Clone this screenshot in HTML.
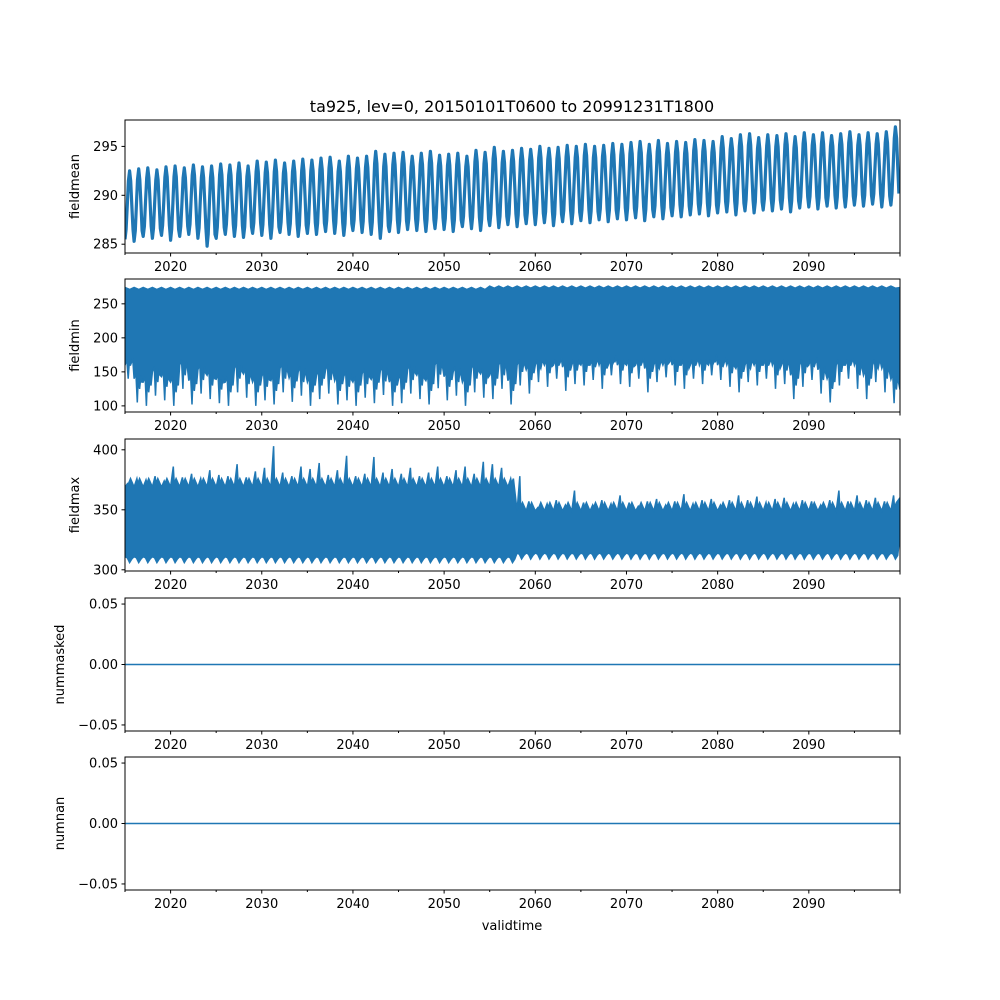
<!DOCTYPE html>
<html><head><meta charset="utf-8"><style>
body{margin:0;background:#fff}
svg{display:block;font-family:"DejaVu Sans","Liberation Sans",sans-serif}
</style></head><body>
<svg id="chart" width="1000" height="1000" viewBox="0 0 1000 1000" xmlns="http://www.w3.org/2000/svg">
<rect width="1000" height="1000" fill="#fff"/>
<text x="512" y="112" font-size="16" text-anchor="middle">ta925, lev=0, 20150101T0600 to 20991231T1800</text>
<text x="512" y="930" font-size="13" text-anchor="middle">validtime</text>
</svg>
<script>
const years = [];
for (let y = 2015; y <= 2099; y++) years.push(y);
const xTicks = [2020,2030,2040,2050,2060,2070,2080,2090];
const fmMax = [292.5,292.7,292.8,292.6,292.9,293.0,292.8,293.1,292.9,293.0,
293.2,293.1,293.3,293.0,293.5,293.4,293.6,293.3,293.5,293.7,
293.6,293.8,293.9,293.5,294.0,293.8,294.0,294.5,294.2,294.3,
294.4,294.0,294.3,294.5,294.1,294.2,294.3,294.0,294.6,294.4,
294.9,294.5,294.6,294.8,294.7,295.0,294.8,294.9,295.1,295.0,
295.2,295.0,295.1,295.3,295.2,295.4,295.5,295.2,295.6,295.3,
295.5,295.4,295.7,295.6,295.5,296.0,295.8,296.2,296.3,295.9,
296.2,296.1,296.3,296.0,296.4,296.2,296.4,296.1,296.3,296.5,
296.2,296.4,296.3,296.5,297.0];
const fmMin = [285.5,285.3,285.8,285.6,285.9,285.4,285.8,286.0,285.6,284.8,
285.6,286.0,285.8,285.7,286.1,285.9,285.6,286.2,286.0,285.8,
286.1,286.0,286.3,286.1,285.9,286.4,286.2,286.0,285.6,286.3,
286.2,286.5,286.4,286.3,286.6,286.5,286.3,286.8,286.6,286.4,
286.9,286.7,287.0,286.8,287.1,287.0,287.2,286.9,287.3,287.1,
287.4,287.2,287.5,287.3,287.6,287.5,287.7,287.4,287.8,287.6,
287.9,287.8,288.0,288.1,287.9,288.2,288.3,288.0,288.4,288.2,
288.5,288.4,288.6,288.3,288.7,288.8,288.6,288.9,288.7,288.8,
289.0,288.9,289.1,288.8,289.0];
const fminLow = [140,105,100,115,108,100,125,102,118,110,
104,100,120,112,100,108,102,120,106,115,
100,110,118,102,108,100,112,104,116,100,
104,118,110,102,126,108,115,100,120,112,
110,125,102,130,118,135,128,140,122,132,
130,138,125,145,132,128,140,120,135,142,
130,125,140,132,145,138,128,120,135,130,
140,125,132,110,128,138,118,105,130,140,
125,110,135,120,104];
const fminTop = [];
for (let i = 0; i < 85; i++) fminTop.push(i < 40 ? 274 : 276);
const fmaxHigh = [372,376,375,378,374,386,377,380,376,383,
379,378,388,377,382,385,403,381,378,386,
384,389,379,383,395,378,380,394,381,384,
380,385,378,381,386,378,383,386,380,390,
388,385,376,378,357,352,355,358,354,366,
356,354,358,355,362,356,353,357,359,354,
357,363,355,358,359,354,358,362,358,361,
356,359,360,355,358,357,354,358,366,357,
362,358,360,357,362];
const fmaxLow = [];
for (let i = 0; i < 85; i++) fmaxLow.push(i < 43 ? 306 : 309);
const zeroSeries = [0, 0];

const svg = document.getElementById('chart');
const NS = 'http://www.w3.org/2000/svg';
const X0 = 125, X1 = 900;
const xScale = t => X0 + (t - 2015) / 85 * (X1 - X0);
const fmtZ = v => (v < 0 ? '\u2212' : '') + Math.abs(v).toFixed(2);
const panels = [
 {name:'fieldmean', top:120, bot:253, lo:284.1, hi:297.7, ticks:[285,290,295], fmt:v=>String(v)},
 {name:'fieldmin', top:279, bot:412, lo:91, hi:286.5, ticks:[100,150,200,250], fmt:v=>String(v)},
 {name:'fieldmax', top:439, bot:571, lo:299, hi:409, ticks:[300,350,400], fmt:v=>String(v)},
 {name:'nummasked', top:598, bot:731, lo:-0.055, hi:0.055, ticks:[-0.05,0,0.05], fmt:fmtZ},
 {name:'numnan', top:757, bot:890, lo:-0.055, hi:0.055, ticks:[-0.05,0,0.05], fmt:fmtZ}
];
function mk(tag, attrs, parent){const e=document.createElementNS(NS,tag);for(const k in attrs)e.setAttribute(k,attrs[k]);(parent||svg).appendChild(e);return e;}
const C = '#1f77b4';
panels.forEach((p, pi) => {
  const g = mk('g', {});
  
  
  const ys = v => p.bot - (v - p.lo) / (p.hi - p.lo) * (p.bot - p.top);
  const cp = mk('clipPath', {id:'cp'+pi}, g);
  mk('rect', {x:X0, y:p.top, width:X1-X0, height:p.bot-p.top}, cp);
  const dg = mk('g', {'clip-path':'url(#cp'+pi+')'}, g);
  if (pi === 0) {
    let d = '';
    years.forEach((yr, i) => {
      for (let k = 0; k < 8; k++) {
        const f = k / 8;
        const s = (1 - Math.cos(2 * Math.PI * f)) / 2;
        const v = fmMin[i] + (fmMax[i] - fmMin[i]) * s;
        d += (d ? 'L' : 'M') + xScale(yr + f).toFixed(1) + ',' + ys(v).toFixed(1);
      }
    });
    const path = mk('path', {d, fill:'none', stroke:C, 'stroke-width':3.2, 'stroke-linejoin':'round'}, dg);
    
    
  } else if (pi === 1 || pi === 2) {
    const hiA = pi === 1 ? fminTop : fmaxHigh;
    const loA = pi === 1 ? fminLow : fmaxLow;
    let top = '', bot = [];
    years.forEach((yr, i) => {
      const h = hiA[i];
      if (pi === 1) {
        top += (top ? 'L' : 'M') + xScale(yr).toFixed(1) + ',' + ys(h).toFixed(1) + 'L' + xScale(yr + 0.5).toFixed(1) + ',' + ys(h - 3).toFixed(1);
        const base = Math.min(160, loA[i] + 35);
        bot.push([yr, base], [yr + 0.2, base + 8], [yr + 0.35, loA[i]], [yr + 0.45, base], [yr + 0.6, loA[i] + 20], [yr + 0.75, base + 5], [yr + 0.85, loA[i] + 30]);
      } else {
        const body = i < 43 ? 372 : 352;
        top += (top ? 'L' : 'M') + xScale(yr).toFixed(1) + ',' + ys(body - 3).toFixed(1) + 'L' + xScale(yr + 0.3).toFixed(1) + ',' + ys(h).toFixed(1) + 'L' + xScale(yr + 0.4).toFixed(1) + ',' + ys(body).toFixed(1) + 'L' + xScale(yr + 0.6).toFixed(1) + ',' + ys(body + 4).toFixed(1);
        bot.push([yr, loA[i] + 5], [yr + 0.25, loA[i] + 4], [yr + 0.5, loA[i]], [yr + 0.75, loA[i] + 3]);
      }
    });
    top += 'L' + xScale(2100) + ',' + ys(hiA[84] - 2);
    let d = top;
    d += 'L' + xScale(2100) + ',' + ys(loA[84] + 20);
    bot.reverse().forEach(b => { d += 'L' + xScale(b[0]).toFixed(1) + ',' + ys(b[1]).toFixed(1); });
    d += 'Z';
    const path = mk('path', {d, fill:C, stroke:C, 'stroke-width':1.5}, dg);
    
    
  } else {
    const l = mk('line', {x1:xScale(2015), x2:xScale(2100), y1:ys(zeroSeries[0]), y2:ys(zeroSeries[1]), stroke:C, 'stroke-width':1.5}, dg);
    
    
  }
  const fr = mk('rect', {x:X0, y:p.top, width:X1-X0, height:p.bot-p.top, fill:'none', stroke:'#000', 'stroke-width':1}, g);
  
  
  p.ticks.forEach(t => {
    const y = ys(t);
    mk('line', {x1:X0-3.5, x2:X0, y1:y, y2:y, stroke:'#000'}, g);
    const tx = mk('text', {x:X0-7, y:y+4.5, 'font-size':13, 'text-anchor':'end'}, g);
    tx.textContent = p.fmt(t);
    
    
  });
  for (let yr = 2015; yr <= 2100; yr += 5) {
    const major = yr % 10 === 0;
    mk('line', {x1:xScale(yr), x2:xScale(yr), y1:p.bot, y2:p.bot + (major ? 3.5 : 2), stroke:'#000'}, g);
  }
  xTicks.forEach(t => {
    const tx = mk('text', {x:xScale(t), y:p.bot + 18, 'font-size':13, 'text-anchor':'middle'}, g);
    tx.textContent = t;
    
    
  });
  const yc = (p.top + p.bot) / 2;
  const lx = pi >= 3 ? 64 : 79;
  const yl = mk('text', {x:lx, y:yc, 'font-size':13, 'text-anchor':'middle', transform:'rotate(-90 '+lx+' '+yc+')'}, g);
  yl.textContent = p.name;
  
  
});
</script>
</body></html>
